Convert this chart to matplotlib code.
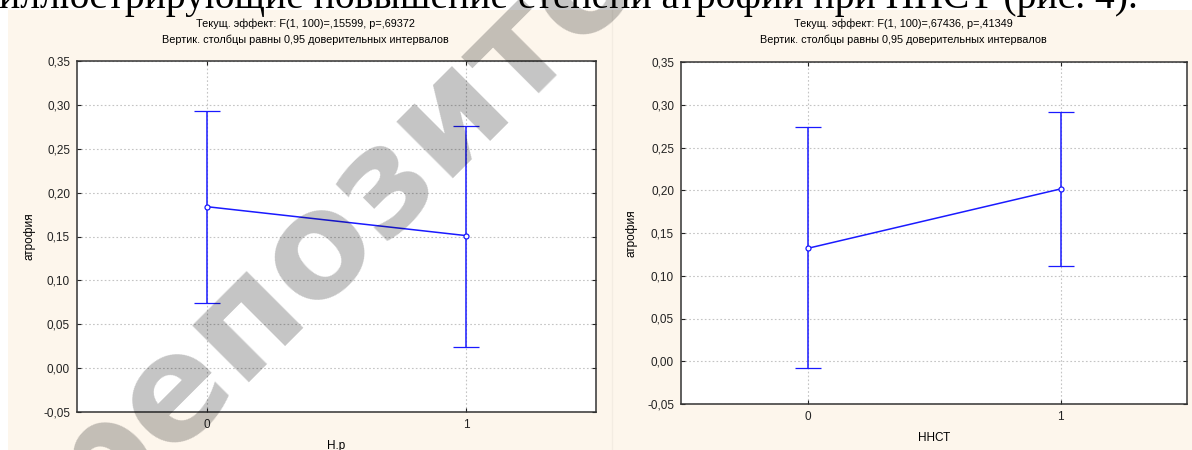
import numpy as np
import matplotlib
matplotlib.use("Agg")
import matplotlib.pyplot as plt
from matplotlib.patches import Rectangle
from matplotlib.ticker import FuncFormatter

# group levels (x axis) and mean +/- 0.95 CI
levels = [0, 1]

np_mean = [0.184, 0.151]
np_low = [0.074, 0.024]
np_high = [0.293, 0.276]

nnst_mean = [0.132, 0.2015]
nnst_low = [-0.008, 0.111]
nnst_high = [0.274, 0.292]

titles = ["Текущ. эффект: F(1, 100)=,15599, p=,69372",
          "Текущ. эффект: F(1, 100)=,67436, p=,41349"]
subtitle = "Вертик. столбцы равны 0,95 доверительных интервалов"
xlabels = ["Н.р", "ННСТ"]
ylabel = "атрофия"
yticks = [-0.05, 0.0, 0.05, 0.10, 0.15, 0.20, 0.25, 0.30, 0.35]

W, H = 1192, 450
cream = "#fdf6ec"
blue = "#1a1aff"

plt.rcParams["font.family"] = ["Liberation Sans", "DejaVu Sans"]

fig = plt.figure(figsize=(W / 100, H / 100), dpi=100, facecolor="white")
fig.patches.append(Rectangle((8 / W, 0), 1 - 8 / W, 1 - 10 / H, transform=fig.transFigure,
                             facecolor=cream, edgecolor="none", zorder=-2))
fig.lines.append(plt.Line2D([612 / W, 612 / W], [0, 1 - 10 / H], transform=fig.transFigure,
                            color="#f3ece2", lw=1, zorder=-1))

comma = FuncFormatter(lambda v, p: f"{v:.2f}".replace(".", ","))

# pixel boxes of the two plot areas: left, top, right, bottom
boxes = [(77, 61, 596, 412), (681, 62, 1187, 404)]
series = [(np_mean, np_low, np_high), (nnst_mean, nnst_low, nnst_high)]
title_x = [305, 903]
xlab_top = [440, 432]
ylab_x = [35, 637]

for i, (box, (m, lo, hi)) in enumerate(zip(boxes, series)):
    l, t, r, b = box
    ax = fig.add_axes([l / W, 1 - b / H, (r - l) / W, (b - t) / H])
    m = np.array(m)
    yerr = [m - np.array(lo), np.array(hi) - m]
    ax.errorbar(levels, m, yerr=yerr, color=blue, lw=1.1, capsize=9.5, capthick=1.1,
                marker="o", ms=3.6, mfc="white", mec=blue, mew=0.9, zorder=3)
    ax.set_xlim(-0.5, 1.5)
    ax.set_ylim(-0.05, 0.35)
    ax.set_xticks(levels)
    ax.set_yticks(yticks)
    ax.yaxis.set_major_formatter(comma)
    ax.grid(True, color="#c4c4c4", ls=(0, (1.5, 2)), lw=0.8)
    ax.tick_params(direction="in", length=3, width=0.8, top=True, right=True,
                   labelsize=8.5, colors="#222222", pad=5)
    for s in ax.spines.values():
        s.set_color("#333333")
        s.set_linewidth(1.1)
    ax.set_xlabel(xlabels[i], fontsize=8.5)
    ax.set_ylabel(ylabel, fontsize=8.5)
    ax.xaxis.set_label_coords(0.5, (b - xlab_top[i]) / (b - t))
    ax.yaxis.set_label_coords((ylab_x[i] - l) / (r - l), 0.5)
    fig.text(title_x[i] / W, 1 - 24 / H, titles[i], ha="center", va="center", fontsize=7.8)
    fig.text(title_x[i] / W, 1 - 40 / H, subtitle, ha="center", va="center", fontsize=7.8)

# scanned body text cut off at the top of the page
fig.text(-1 / W, 1 - 8 / H, "иллюстрирующие повышение степени атрофии при ННСТ (рис. 4).",
         family="Liberation Serif", fontsize=28.5, ha="left", va="baseline", color="black")

# repository watermark
fig.text(92 / W, 1 - 527 / H, "репозиторий", family="DejaVu Sans", fontweight="bold",
         fontsize=106, rotation=45, rotation_mode="anchor", ha="left", va="baseline",
         color="black", alpha=0.23, zorder=10)

fig.savefig("out.png", dpi=100, facecolor="white")
